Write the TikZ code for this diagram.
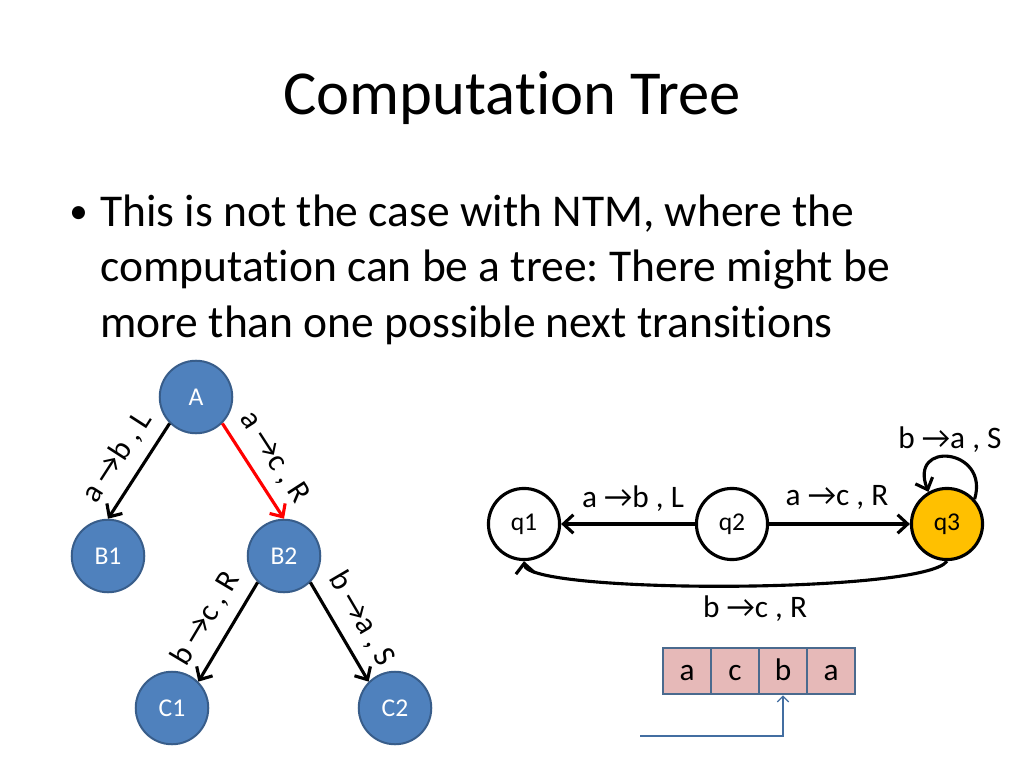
\documentclass[tikz,border=0pt]{standalone}
\usepackage{fontspec}
\setmainfont{Carlito}[Ligatures={NoCommon}]
\usetikzlibrary{arrows.meta}
\definecolor{nodeblue}{HTML}{4F81BD}
\definecolor{nodeborder}{HTML}{385D8A}
\definecolor{goldfill}{HTML}{FFC000}
\definecolor{tapefill}{HTML}{E6B9B8}
\definecolor{tapeborder}{HTML}{4A6A8E}
\frenchspacing
\tikzset{
  treenode/.style={circle, fill=nodeblue, draw=nodeborder, line width=1.4pt, minimum size=51pt, inner sep=0pt, text=white, font=\fontsize{18}{20}\selectfont},
  statenode/.style={circle, fill=white, draw=black, line width=2.2pt, minimum size=50pt, inner sep=0pt, font=\fontsize{18}{20}\selectfont},
  edge/.style={line width=2.2pt, -{Straight Barb[length=7pt,width=13pt,line width=2.2pt]}},
  lbl/.style={font=\fontsize{22}{24}\selectfont, inner sep=1pt},
  cell/.style={rectangle, fill=tapefill, draw=tapeborder, line width=1.4pt, minimum width=33.7pt, minimum height=33pt, inner sep=0pt, text height=14pt, text depth=0pt, font=\fontsize{22}{24}\selectfont},
  title/.style={font=\fontsize{44}{53}\selectfont},
  body/.style={font=\fontsize{32}{38}\selectfont, anchor=base west, inner sep=0pt}
}
\begin{document}
\begin{tikzpicture}[x=0.703125pt,y=-0.703125pt]
\useasboundingbox (0,0) rectangle (1024,768);
% title
\node[title, anchor=base, inner sep=0pt] (title) at (512,115) {Computation Tree};
% bullet text
\node[body, font=\fontsize{26}{30}\selectfont] (bullet) at (69,224) {•};
\node[body] (l1) at (100,227) {This is not the case with NTM, where the};
\node[body] (l2) at (100,282) {computation can be a tree: There might be};
\node[body] (l3) at (100,337) {more than one possible next transitions};
% tree
\node[treenode] (A) at (196,397) {A};
\node[treenode] (B1) at (108,556) {B1};
\node[treenode] (B2) at (284,556) {B2};
\node[treenode] (C1) at (172,708) {C1};
\node[treenode] (C2) at (395,708) {C2};
\draw[edge] (A.south west) -- node[lbl, sloped, above=7pt] {a →b , L} (B1.north);
\draw[edge, red] (A.south east) -- node[lbl, sloped, above=7pt, text=black] {a →c , R} (B2.north);
\draw[edge] (B2.south west) -- node[lbl, sloped, above=7pt] {b →c , R} (C1.north east);
\draw[edge] (B2.south east) -- node[lbl, sloped, above=7pt] {b →a , S} (C2.north west);
% state diagram
\node[statenode] (q1) at (524,524) {q1};
\node[statenode] (q2) at (732,524) {q2};
\node[statenode, fill=goldfill] (q3) at (947,524) {q3};
\draw[edge] (q2) -- (q1);
\node[lbl, anchor=base] (lab21) at (633,507) {a →b , L};
\draw[edge] (q2) -- (q3);
\node[lbl, anchor=base] (lab23) at (837,505) {a →c , R};
\draw[edge] (q3.south) .. controls (925,594) and (527,594) .. (q1.south);
\node[lbl, anchor=base] (lbot) at (755,617) {b →c , R};
\draw[edge] (q3.42) .. controls (990,448) and (908,440) .. (q3.120);
\node[lbl, anchor=base] (lloop) at (950,448) {b →a , S};
% tape
\node[cell] (t1) at (687,671) {a};
\node[cell] (t2) at (735,671) {c};
\node[cell] (t3) at (783,671) {b};
\node[cell] (t4) at (831,671) {a};
\coordinate (p0) at (640,736);
\draw[nodeblue!85!black, line width=0.8pt, -{Straight Barb[length=4pt,width=8pt]}] (p0) -| (t3.south);
\end{tikzpicture}
\end{document}
